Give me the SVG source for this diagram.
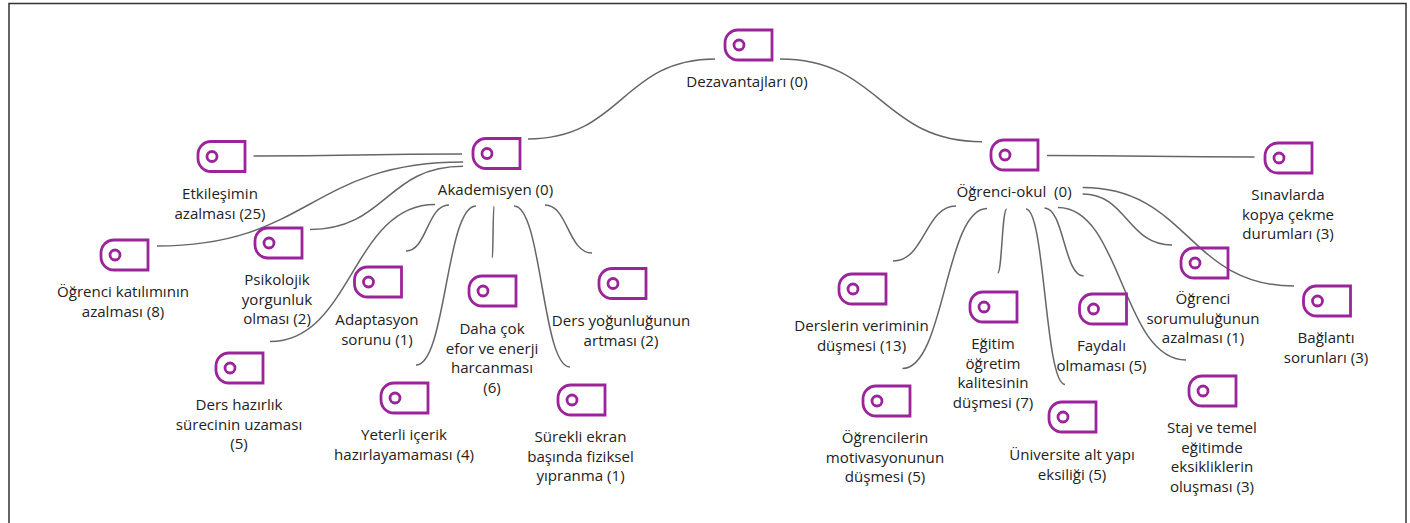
<svg xmlns="http://www.w3.org/2000/svg" width="1410" height="523" viewBox="0 0 1410 523">
<style>
text{font-family:"Open Sans","Noto Sans","Liberation Sans",sans-serif;font-size:15.100px;fill:#222;text-anchor:middle;white-space:pre}
.c path{fill:none;stroke:#666;stroke-width:1.500}
.i{fill:none;stroke:#9b249b;stroke-width:2.800}
</style>
<defs>
<g id="icon"><path class="i" d="M14 0H48V30H14A13 13 0 0 1 1 17V13A13 13 0 0 1 14 0Z"/><circle class="i" cx="15" cy="15" r="5"/></g>
</defs>
<rect x="9" y="3.500" width="1397" height="540" fill="#fff" stroke="#333" stroke-width="1.500"/>
<g id="connectors" class="c">
<path d="M715 59C622 59 622 139 528 139"/>
<path d="M780 59C881 59 881 141.700 982 141.700"/>
<path d="M253.600 156C358 156 358 154 462 154"/>
<path d="M157 246C310 246 310 162 463 162"/>
<path d="M310 229.500C386 229.500 386 166.300 463 166.300"/>
<path d="M270 341.500C352 341.500 352 204.500 435 204.500"/>
<path d="M406 251C427 251 427 205 449 205"/>
<path d="M416 365C446 365 446 206 476 206"/>
<path d="M492.400 258C493 258 493 206 494 206"/>
<path d="M570 367C542 367 542 206 514 206"/>
<path d="M592 253C568 253 568 205 545 205"/>
<path d="M1047 155.500C1150 155.500 1150 157 1254.500 157"/>
<path d="M1082.700 187.500C1188 187.500 1188 286 1294 286"/>
<path d="M1082.700 194C1127 194 1127 245 1172 245"/>
<path d="M956 206C925 206 925 261 893 261"/>
<path d="M987 208.500C945 208.500 945 368.500 902.400 368.500"/>
<path d="M1006.700 209C1002 209 1002 273 997.700 273"/>
<path d="M1026 209C1045 209 1045 384.500 1065 384.500"/>
<path d="M1044.500 208C1064 208 1064 276 1083.600 276"/>
<path d="M1058 207.500C1122 207.500 1122 360 1186 360"/>
</g>
<g id="n-dezavantajlari"><use href="#icon" x="724" y="30"/><text x="747" y="87">Dezavantajları (0)</text></g>
<g id="n-akademisyen"><use href="#icon" x="472" y="138.500"/><text x="495.500" y="195">Akademisyen (0)</text></g>
<g id="n-etkilesim"><use href="#icon" x="197" y="141.500"/><text x="220" y="199">Etkileşimin<tspan x="220" dy="19.700">azalması (25)</tspan></text></g>
<g id="n-katilim"><use href="#icon" x="100" y="240"/><text x="123" y="297">Öğrenci katılımının<tspan x="123" dy="19.700">azalması (8)</tspan></text></g>
<g id="n-psikolojik"><use href="#icon" x="254" y="228"/><text x="277" y="285">Psikolojik<tspan x="277" dy="19.700">yorgunluk</tspan><tspan x="277" dy="19.700">olması (2)</tspan></text></g>
<g id="n-hazirlik"><use href="#icon" x="215" y="353"/><text x="239" y="410">Ders hazırlık<tspan x="239" dy="19.700">sürecinin uzaması</tspan><tspan x="239" dy="19.700">(5)</tspan></text></g>
<g id="n-adaptasyon"><use href="#icon" x="353.500" y="267"/><text x="377" y="325">Adaptasyon<tspan x="377" dy="19.700">sorunu (1)</tspan></text></g>
<g id="n-efor"><use href="#icon" x="468" y="276"/><text x="492" y="334">Daha çok<tspan x="492" dy="19.700">efor ve enerji</tspan><tspan x="492" dy="19.700">harcanması</tspan><tspan x="492" dy="19.700">(6)</tspan></text></g>
<g id="n-yeterli"><use href="#icon" x="380" y="383"/><text x="404" y="440">Yeterli içerik<tspan x="404" dy="19.700">hazırlayamaması (4)</tspan></text></g>
<g id="n-surekli"><use href="#icon" x="557" y="385"/><text x="580.500" y="442">Sürekli ekran<tspan x="580.500" dy="19.700">başında fiziksel</tspan><tspan x="580.500" dy="19.700">yıpranma (1)</tspan></text></g>
<g id="n-yogunluk"><use href="#icon" x="598" y="268.500"/><text x="621" y="326">Ders yoğunluğunun<tspan x="621" dy="19.700">artması (2)</tspan></text></g>
<g id="n-ogrenci-okul"><use href="#icon" x="990" y="140"/><text x="1014" y="197">Öğrenci-okul  (0)</text></g>
<g id="n-sinav"><use href="#icon" x="1264" y="143"/><text x="1288" y="200">Sınavlarda<tspan x="1288" dy="19.700">kopya çekme</tspan><tspan x="1288" dy="19.700">durumları (3)</tspan></text></g>
<g id="n-sorumluluk"><use href="#icon" x="1180" y="248"/><text x="1203" y="304">Öğrenci<tspan x="1203" dy="19.700">sorumuluğunun</tspan><tspan x="1203" dy="19.700">azalması (1)</tspan></text></g>
<g id="n-baglanti"><use href="#icon" x="1302.500" y="286"/><text x="1326" y="343">Bağlantı<tspan x="1326" dy="19.700">sorunları (3)</tspan></text></g>
<g id="n-verim"><use href="#icon" x="838" y="274"/><text x="861.500" y="331">Derslerin veriminin<tspan x="861.500" dy="19.700">düşmesi (13)</tspan></text></g>
<g id="n-kalite"><use href="#icon" x="969" y="292"/><text x="993" y="349">Eğitim<tspan x="993" dy="19.700">öğretim</tspan><tspan x="993" dy="19.700">kalitesinin</tspan><tspan x="993" dy="19.700">düşmesi (7)</tspan></text></g>
<g id="n-faydali"><use href="#icon" x="1078.500" y="294"/><text x="1101.500" y="351">Faydalı<tspan x="1101.500" dy="19.700">olmaması (5)</tspan></text></g>
<g id="n-motivasyon"><use href="#icon" x="862" y="386"/><text x="885" y="443">Öğrencilerin<tspan x="885" dy="19.700">motivasyonunun</tspan><tspan x="885" dy="19.700">düşmesi (5)</tspan></text></g>
<g id="n-altyapi"><use href="#icon" x="1048" y="402"/><text x="1072" y="460">Üniversite alt yapı<tspan x="1072" dy="19.700">eksiliği (5)</tspan></text></g>
<g id="n-staj"><use href="#icon" x="1188" y="376"/><text x="1212" y="433">Staj ve temel<tspan x="1212" dy="19.700">eğitimde</tspan><tspan x="1212" dy="19.700">eksikliklerin</tspan><tspan x="1212" dy="19.700">oluşması (3)</tspan></text></g>
</svg>
